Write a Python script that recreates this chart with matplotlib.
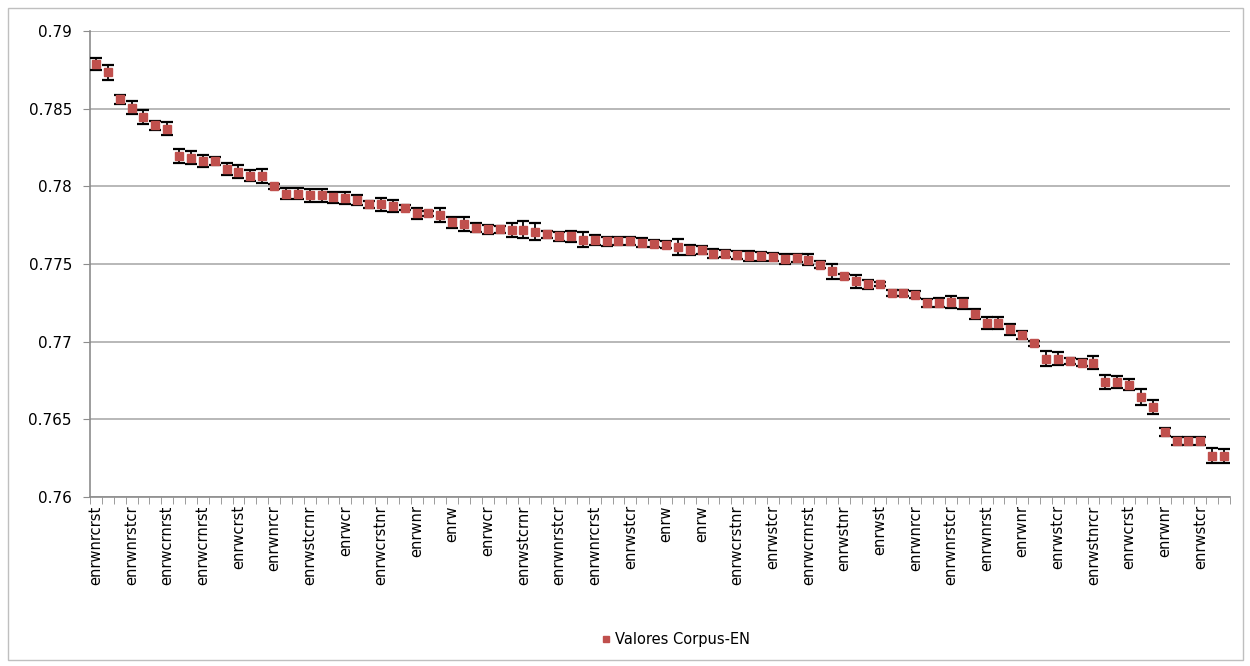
import numpy as np
import matplotlib.pyplot as plt
from matplotlib.patches import Rectangle
from matplotlib.lines import Line2D

# mean score per configuration, sorted from best to worst
valores = [
    0.78789, 0.78735, 0.78561, 0.78507, 0.78446, 0.78393, 0.78372, 0.78196,
    0.78185, 0.78163, 0.78163, 0.78111, 0.78093, 0.78067, 0.78067, 0.78000,
    0.77952, 0.77952, 0.77941, 0.77941, 0.77930, 0.77924, 0.77913, 0.77883,
    0.77883, 0.77872, 0.77862, 0.77826, 0.77826, 0.77815, 0.77768, 0.77757,
    0.77734, 0.77723, 0.77723, 0.77719, 0.77719, 0.77709, 0.77691, 0.77677,
    0.77677, 0.77655, 0.77655, 0.77645, 0.77645, 0.77645, 0.77638, 0.77630,
    0.77625, 0.77608, 0.77592, 0.77588, 0.77567, 0.77567, 0.77556, 0.77554,
    0.77549, 0.77543, 0.77534, 0.77539, 0.77528, 0.77496, 0.77453, 0.77420,
    0.77388, 0.77371, 0.77371, 0.77313, 0.77313, 0.77302, 0.77248, 0.77250,
    0.77254, 0.77246, 0.77180, 0.77120, 0.77120, 0.77080, 0.77043, 0.76989,
    0.76891, 0.76891, 0.76874, 0.76863, 0.76863, 0.76739, 0.76739, 0.76724,
    0.76641, 0.76580, 0.76420, 0.76359, 0.76359, 0.76359, 0.76265, 0.76265,
]

# half-width of the error bar for each point
errores = [
    0.00038, 0.00048, 0.00030, 0.00043, 0.00046, 0.00030, 0.00041, 0.00043,
    0.00042, 0.00037, 0.00024, 0.00041, 0.00041, 0.00036, 0.00045, 0.00018,
    0.00035, 0.00035, 0.00041, 0.00041, 0.00035, 0.00040, 0.00033, 0.00022,
    0.00043, 0.00040, 0.00015, 0.00037, 0.00018, 0.00048, 0.00035, 0.00043,
    0.00027, 0.00027, 0.00024, 0.00043, 0.00055, 0.00055, 0.00021, 0.00028,
    0.00034, 0.00048, 0.00032, 0.00027, 0.00026, 0.00026, 0.00027, 0.00022,
    0.00024, 0.00052, 0.00032, 0.00025, 0.00028, 0.00022, 0.00026, 0.00032,
    0.00030, 0.00027, 0.00031, 0.00028, 0.00037, 0.00022, 0.00050, 0.00015,
    0.00041, 0.00029, 0.00010, 0.00022, 0.00022, 0.00024, 0.00025, 0.00030,
    0.00040, 0.00033, 0.00033, 0.00039, 0.00039, 0.00036, 0.00025, 0.00014,
    0.00046, 0.00040, 0.00018, 0.00022, 0.00042, 0.00043, 0.00040, 0.00036,
    0.00052, 0.00046, 0.00025, 0.00027, 0.00027, 0.00027, 0.00048, 0.00046,
]

# only every third configuration gets a name on the axis
etiquetas = [
    "enrwnrcrst", "enrwnrstcr", "enrwcrnrst", "enrwcrnrst", "enrwcrst",
    "enrwnrcr", "enrwstcrnr", "enrwcr", "enrwcrstnr", "enrwnr", "enrw",
    "enrwcr", "enrwstcrnr", "enrwnrstcr", "enrwnrcrst", "enrwstcr", "enrw",
    "enrw", "enrwcrstnr", "enrwstcr", "enrwcrnrst", "enrwstnr", "enrwst",
    "enrwnrcr", "enrwnrstcr", "enrwnrst", "enrwnr", "enrwstcr", "enrwstnrcr",
    "enrwcrst", "enrwnr", "enrwstcr",
]
paso_etiquetas = 3

yticks = [0.76, 0.765, 0.77, 0.775, 0.78, 0.785, 0.79]

plt.rcParams['font.family'] = ['DejaVu Sans']
grid_color = "#ABABAB"
axis_color = "#8C8C8C"
rojo = "#C0504D"

fig = plt.figure(figsize=(12.5, 6.66), dpi=100)
ax = fig.add_axes([0.072, 0.2538, 0.912, 0.6997])

x = np.arange(len(valores))
ax.errorbar(x, valores, yerr=errores, fmt="s", color=rojo,
            markersize=5.5, ecolor="black", elinewidth=1.3, capsize=4.5,
            capthick=1.6, zorder=3)

ax.set_xlim(-0.5, len(valores) - 0.5)
ax.set_ylim(0.76, 0.79)
ax.set_yticks(yticks)
ax.set_yticklabels([f"{v:g}" for v in yticks], fontsize=11)
ax.yaxis.grid(True, color=grid_color, linewidth=1.2)
ax.set_axisbelow(True)

# labels every third category, tick marks between every category
ax.set_xticks(x[::paso_etiquetas])
ax.set_xticklabels(etiquetas, rotation=90, fontsize=10.5)
ax.tick_params(axis="x", which="major", length=0, pad=6)
ax.set_xticks(np.arange(-0.5, len(valores), 1), minor=True)
ax.tick_params(axis="x", which="minor", length=5, color=axis_color)
ax.tick_params(axis="y", length=5, color=axis_color, pad=8)

for side in ["top", "right"]:
    ax.spines[side].set_visible(False)
for side in ["left", "bottom"]:
    ax.spines[side].set_color(axis_color)
    ax.spines[side].set_linewidth(1.2)

# legend shows only the square marker
handle = Line2D([], [], linestyle="none", marker="s", markersize=4.5,
                color=rojo)
fig.legend([handle], ["Valores Corpus-EN"], loc="center",
           bbox_to_anchor=(0.54, 0.04), frameon=False, fontsize=10.5,
           handletextpad=0.2, handlelength=0.8)

# light frame around the whole chart
fig.add_artist(Rectangle((8 / 1250, 6 / 666), 1235 / 1250, 652 / 666,
                         transform=fig.transFigure, fill=False,
                         edgecolor="#BFBFBF", linewidth=1))

fig.savefig("out.png", dpi=100)
